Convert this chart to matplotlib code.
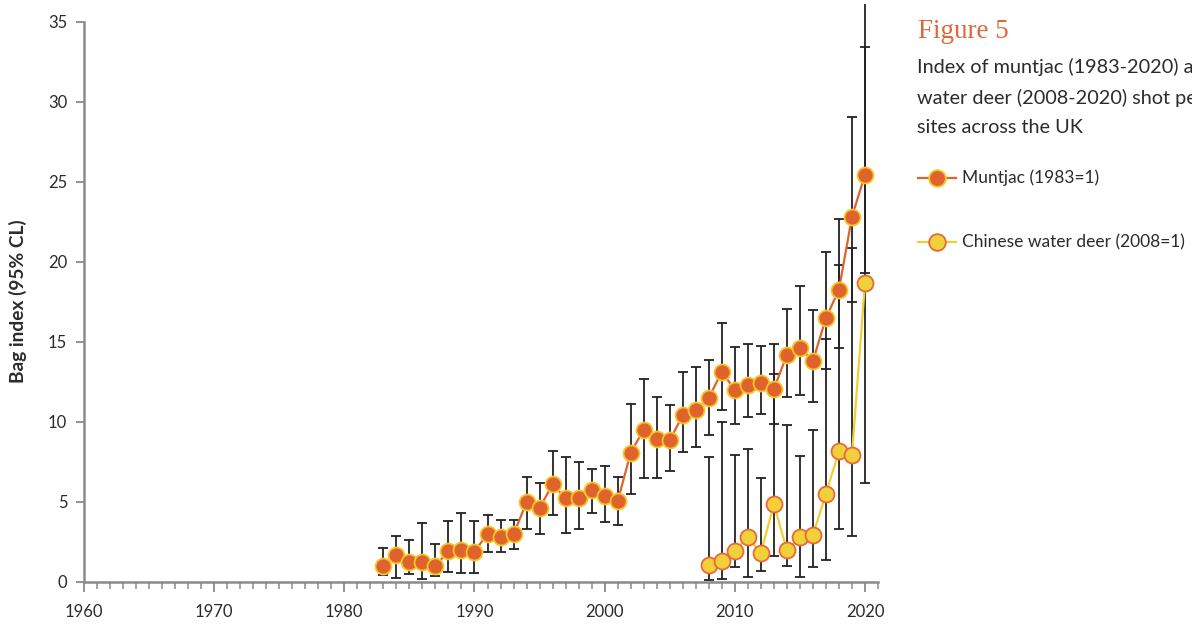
import numpy as np
import matplotlib
matplotlib.use("Agg")
import matplotlib.pyplot as plt
from matplotlib.lines import Line2D
from matplotlib.ticker import MultipleLocator

# Muntjac bag index, 1983 = 1, with 95% confidence limits
muntjac_years = list(range(1983, 2021))
muntjac_index = [1.0, 1.7, 1.23, 1.23, 1.0, 1.94, 1.98, 1.9, 3.02, 2.79,
                 2.98, 4.98, 4.63, 6.1, 5.23, 5.27, 5.73, 5.4, 5.04, 8.08,
                 9.52, 8.92, 8.85, 10.42, 10.77, 11.5, 13.15, 12.0, 12.33, 12.42,
                 12.06, 14.19, 14.65, 13.81, 16.5, 18.27, 22.83, 25.46]
muntjac_lower = [0.45, 0.25, 0.48, 0.19, 0.38, 0.63, 0.54, 0.58, 1.88, 1.88,
                 2.04, 3.33, 3.0, 4.17, 3.08, 3.29, 4.29, 3.75, 3.54, 5.48,
                 6.48, 6.52, 6.94, 8.1, 8.46, 9.21, 10.73, 9.85, 10.29, 10.48,
                 9.85, 11.58, 11.67, 11.25, 13.29, 14.6, 17.52, 19.3]
muntjac_upper = [2.1, 2.9, 2.6, 3.67, 2.4, 3.83, 4.33, 3.83, 4.2, 3.88,
                 3.88, 6.58, 6.21, 8.17, 7.79, 7.52, 7.04, 7.27, 6.58, 11.15,
                 12.69, 11.58, 11.06, 13.1, 13.46, 13.9, 16.17, 14.67, 14.88, 14.75,
                 14.85, 17.06, 18.48, 17.02, 20.6, 22.69, 29.06, 33.46]

# Chinese water deer bag index, 2008 = 1, with 95% confidence limits
cwd_years = list(range(2008, 2021))
cwd_index = [1.06, 1.31, 1.94, 2.83, 1.81, 4.87, 1.98, 2.79, 2.92, 5.52,
             8.17, 7.96, 18.71]
cwd_lower = [0.12, 0.17, 0.96, 0.33, 0.69, 1.63, 1.02, 0.29, 0.94, 1.38,
             3.29, 2.9, 6.2]
cwd_upper = [7.83, 10.0, 7.96, 8.33, 6.5, 12.98, 9.79, 7.9, 9.52, 15.19,
             19.8, 20.85, 38.0]

x_ticks = [1960, 1970, 1980, 1990, 2000, 2010, 2020]
y_ticks = [0, 5, 10, 15, 20, 25, 30, 35]

MUNT_FACE = "#E0622D"
MUNT_EDGE = "#F3C72C"
CWD_FACE = "#F1D03A"
CWD_EDGE = "#E5693A"
CWD_LINE = "#F0CF35"
AXIS_GREY = "#8a8a8a"
TEXT = "#2b2b2b"

plt.rcParams["font.family"] = ["Lato", "DejaVu Sans"]

W, H = 1192, 624
fig = plt.figure(figsize=(W / 100, H / 100), dpi=100)
ax = fig.add_axes([84 / W, 42 / H, 794 / W, 578 / H])

def yerr(vals, lo, hi):
    v = np.asarray(vals)
    return np.vstack([v - np.asarray(lo), np.asarray(hi) - v])

# confidence limits first so the markers sit on top
ax.errorbar(muntjac_years, muntjac_index,
            yerr=yerr(muntjac_index, muntjac_lower, muntjac_upper),
            fmt="none", ecolor="#222222", elinewidth=1.3, capsize=3.4,
            capthick=1.3, zorder=2)
ax.errorbar(cwd_years, cwd_index, yerr=yerr(cwd_index, cwd_lower, cwd_upper),
            fmt="none", ecolor="#222222", elinewidth=1.3, capsize=3.4,
            capthick=1.3, zorder=2)

ax.plot(muntjac_years, muntjac_index, color=MUNT_FACE, lw=1.6, marker="o",
        ms=11.5, mfc=MUNT_FACE, mec=MUNT_EDGE, mew=1.3, zorder=4)
ax.plot(cwd_years, cwd_index, color=CWD_LINE, lw=1.6, marker="o",
        ms=11.5, mfc=CWD_FACE, mec=CWD_EDGE, mew=1.3, zorder=3)

ax.set_xlim(1960, 2021)
ax.set_ylim(0, 36.125)
ax.set_xticks(x_ticks)
ax.xaxis.set_minor_locator(MultipleLocator(1))
ax.set_yticks(y_ticks)

for side in ("top", "right"):
    ax.spines[side].set_visible(False)
for side in ("left", "bottom"):
    ax.spines[side].set_color(AXIS_GREY)
    ax.spines[side].set_linewidth(1.8)
ax.spines["left"].set_bounds(0, 35)

ax.tick_params(axis="x", which="major", direction="out", length=7, width=1.3,
               color=AXIS_GREY, labelsize=12, labelcolor=TEXT, pad=9)
ax.tick_params(axis="x", which="minor", direction="out", length=5, width=1.1,
               color=AXIS_GREY)
ax.tick_params(axis="y", which="major", direction="out", length=6, width=1.3,
               color=AXIS_GREY, labelsize=12, labelcolor=TEXT, pad=6)

fig.text(18 / W, 1 - 301 / H, "Bag index (95% CL)", rotation=90,
         ha="center", va="center", fontsize=13.8, fontweight="bold",
         color=TEXT)

# caption block on the right
fig.text(918 / W, 1 - 31 / H, "Figure 5", ha="left", va="center",
         fontsize=19.5, color="#E0673A",
         family=["Liberation Serif", "DejaVu Serif"])
caption = ["Index of muntjac (1983-2020) and",
           "water deer (2008-2020) shot per",
           "sites across the UK"]
for i, line in enumerate(caption):
    fig.text(917 / W, 1 - (67 + 30.5 * i) / H, line, ha="left",
             va="center", fontsize=14.3, color=TEXT)

legend_rows = [
    ("Muntjac (1983=1)", MUNT_FACE, MUNT_FACE, MUNT_EDGE, 178),
    ("Chinese water deer (2008=1)", CWD_LINE, CWD_FACE, CWD_EDGE, 242),
]
for label, lc, fc, ec, ypix in legend_rows:
    yf = 1 - ypix / H
    fig.add_artist(Line2D([918 / W, 956 / W], [yf, yf], color=lc, lw=1.6,
                          transform=fig.transFigure))
    fig.add_artist(Line2D([937 / W], [yf], marker="o", ms=12, mfc=fc,
                          mec=ec, mew=1.3, transform=fig.transFigure))
    fig.text(962 / W, yf, label, ha="left", va="center", fontsize=12.5,
             color=TEXT)

fig.savefig("out.png", dpi=100, facecolor="white")
